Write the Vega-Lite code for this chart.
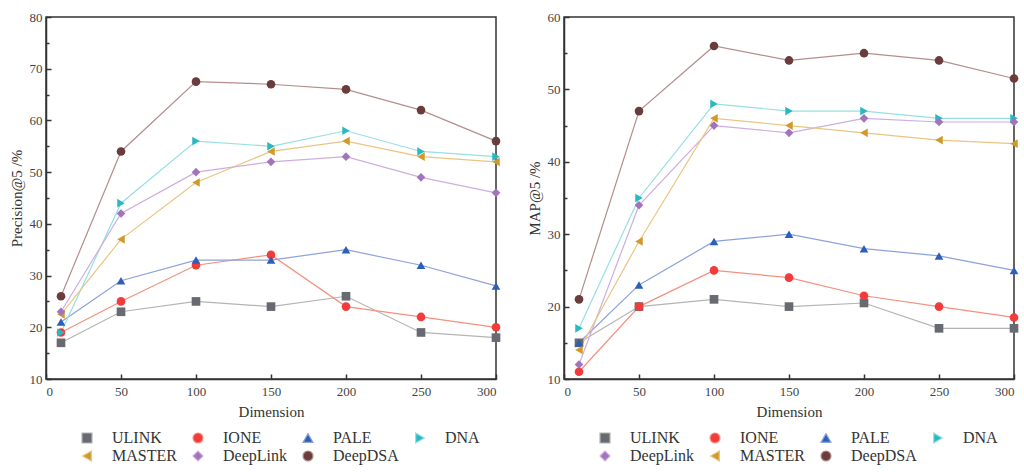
{
  "$schema": "https://vega.github.io/schema/vega-lite/v6.json",
  "padding": {"left": 8, "top": 10, "right": 4, "bottom": 0},
  "background": "white",
  "datasets": {
    "p5": [
      {"m": "ULINK", "d": 10, "v": 17}, {"m": "ULINK", "d": 50, "v": 23}, {"m": "ULINK", "d": 100, "v": 25}, {"m": "ULINK", "d": 150, "v": 24}, {"m": "ULINK", "d": 200, "v": 26}, {"m": "ULINK", "d": 250, "v": 19}, {"m": "ULINK", "d": 300, "v": 18},
      {"m": "IONE", "d": 10, "v": 19}, {"m": "IONE", "d": 50, "v": 25}, {"m": "IONE", "d": 100, "v": 32}, {"m": "IONE", "d": 150, "v": 34}, {"m": "IONE", "d": 200, "v": 24}, {"m": "IONE", "d": 250, "v": 22}, {"m": "IONE", "d": 300, "v": 20},
      {"m": "PALE", "d": 10, "v": 21}, {"m": "PALE", "d": 50, "v": 29}, {"m": "PALE", "d": 100, "v": 33}, {"m": "PALE", "d": 150, "v": 33}, {"m": "PALE", "d": 200, "v": 35}, {"m": "PALE", "d": 250, "v": 32}, {"m": "PALE", "d": 300, "v": 28},
      {"m": "DNA", "d": 10, "v": 19}, {"m": "DNA", "d": 50, "v": 44}, {"m": "DNA", "d": 100, "v": 56}, {"m": "DNA", "d": 150, "v": 55}, {"m": "DNA", "d": 200, "v": 58}, {"m": "DNA", "d": 250, "v": 54}, {"m": "DNA", "d": 300, "v": 53},
      {"m": "MASTER", "d": 10, "v": 22.5}, {"m": "MASTER", "d": 50, "v": 37}, {"m": "MASTER", "d": 100, "v": 48}, {"m": "MASTER", "d": 150, "v": 54}, {"m": "MASTER", "d": 200, "v": 56}, {"m": "MASTER", "d": 250, "v": 53}, {"m": "MASTER", "d": 300, "v": 52},
      {"m": "DeepLink", "d": 10, "v": 23}, {"m": "DeepLink", "d": 50, "v": 42}, {"m": "DeepLink", "d": 100, "v": 50}, {"m": "DeepLink", "d": 150, "v": 52}, {"m": "DeepLink", "d": 200, "v": 53}, {"m": "DeepLink", "d": 250, "v": 49}, {"m": "DeepLink", "d": 300, "v": 46},
      {"m": "DeepDSA", "d": 10, "v": 26}, {"m": "DeepDSA", "d": 50, "v": 54}, {"m": "DeepDSA", "d": 100, "v": 67.5}, {"m": "DeepDSA", "d": 150, "v": 67}, {"m": "DeepDSA", "d": 200, "v": 66}, {"m": "DeepDSA", "d": 250, "v": 62}, {"m": "DeepDSA", "d": 300, "v": 56}
    ],
    "map5": [
      {"m": "ULINK", "d": 10, "v": 15}, {"m": "ULINK", "d": 50, "v": 20}, {"m": "ULINK", "d": 100, "v": 21}, {"m": "ULINK", "d": 150, "v": 20}, {"m": "ULINK", "d": 200, "v": 20.5}, {"m": "ULINK", "d": 250, "v": 17}, {"m": "ULINK", "d": 300, "v": 17},
      {"m": "IONE", "d": 10, "v": 11}, {"m": "IONE", "d": 50, "v": 20}, {"m": "IONE", "d": 100, "v": 25}, {"m": "IONE", "d": 150, "v": 24}, {"m": "IONE", "d": 200, "v": 21.5}, {"m": "IONE", "d": 250, "v": 20}, {"m": "IONE", "d": 300, "v": 18.5},
      {"m": "PALE", "d": 10, "v": 15}, {"m": "PALE", "d": 50, "v": 23}, {"m": "PALE", "d": 100, "v": 29}, {"m": "PALE", "d": 150, "v": 30}, {"m": "PALE", "d": 200, "v": 28}, {"m": "PALE", "d": 250, "v": 27}, {"m": "PALE", "d": 300, "v": 25},
      {"m": "DNA", "d": 10, "v": 17}, {"m": "DNA", "d": 50, "v": 35}, {"m": "DNA", "d": 100, "v": 48}, {"m": "DNA", "d": 150, "v": 47}, {"m": "DNA", "d": 200, "v": 47}, {"m": "DNA", "d": 250, "v": 46}, {"m": "DNA", "d": 300, "v": 46},
      {"m": "DeepLink", "d": 10, "v": 12}, {"m": "DeepLink", "d": 50, "v": 34}, {"m": "DeepLink", "d": 100, "v": 45}, {"m": "DeepLink", "d": 150, "v": 44}, {"m": "DeepLink", "d": 200, "v": 46}, {"m": "DeepLink", "d": 250, "v": 45.5}, {"m": "DeepLink", "d": 300, "v": 45.5},
      {"m": "MASTER", "d": 10, "v": 14}, {"m": "MASTER", "d": 50, "v": 29}, {"m": "MASTER", "d": 100, "v": 46}, {"m": "MASTER", "d": 150, "v": 45}, {"m": "MASTER", "d": 200, "v": 44}, {"m": "MASTER", "d": 250, "v": 43}, {"m": "MASTER", "d": 300, "v": 42.5},
      {"m": "DeepDSA", "d": 10, "v": 21}, {"m": "DeepDSA", "d": 50, "v": 47}, {"m": "DeepDSA", "d": 100, "v": 56}, {"m": "DeepDSA", "d": 150, "v": 54}, {"m": "DeepDSA", "d": 200, "v": 55}, {"m": "DeepDSA", "d": 250, "v": 54}, {"m": "DeepDSA", "d": 300, "v": 51.5}
    ]
  },
  "config": {
    "font": "Liberation Serif",
    "view": {"stroke": "#333333", "strokeWidth": 1.5},
    "axis": {
      "grid": false,
      "domainColor": "#333333",
      "domainWidth": 1.5,
      "tickColor": "#333333",
      "tickWidth": 1.5,
      "labelFont": "Liberation Serif",
      "labelFontSize": 13,
      "labelColor": "#444444",
      "titleFont": "Liberation Serif",
      "titleFontSize": 15,
      "titleFontWeight": "normal",
      "titleColor": "#333333"
    },
    "legend": {
      "orient": "none",
      "legendX": 33,
      "legendY": 413,
      "direction": "horizontal",
      "columns": 4,
      "padding": 0,
      "symbolSize": 100,
      "symbolStrokeWidth": 1.2,
      "labelFont": "Liberation Serif",
      "labelFontSize": 16,
      "labelColor": "#333333",
      "labelOffset": 17,
      "columnPadding": 13,
      "rowPadding": 2,
      "labelLimit": 200
    }
  },
  "spacing": 24,
  "resolve": {
    "scale": {"fill": "independent", "stroke": "independent", "shape": "independent", "y": "independent"},
    "legend": {"fill": "independent", "stroke": "independent", "shape": "independent"}
  },
  "hconcat": [
    {
      "width": 450,
      "height": 362,
      "data": {"name": "p5"},
      "encoding": {
        "x": {"field": "d", "type": "quantitative", "scale": {"domain": [0, 300]},
          "axis": {"title": "Dimension", "values": [0, 50, 100, 150, 200, 250, 300], "tickSize": -5, "labelPadding": 11, "titlePadding": 6}},
        "y": {"field": "v", "type": "quantitative", "scale": {"domain": [10, 80]},
          "axis": {"title": "Precision@5 /%", "values": [10, 15, 20, 25, 30, 35, 40, 45, 50, 55, 60, 65, 70, 75, 80],
            "labelExpr": "datum.value % 10 === 0 ? datum.label : ''",
            "tickSize": {"condition": {"test": "datum.value % 10 === 0", "value": -5}, "value": -3},
            "labelPadding": 9, "titlePadding": 5}}
      },
      "layer": [
        {
          "mark": {"type": "line", "strokeWidth": 1.2},
          "encoding": {
            "detail": {"field": "m"},
            "stroke": {"field": "m", "type": "nominal", "title": null,
              "scale": {"domain": ["ULINK", "IONE", "PALE", "DNA", "MASTER", "DeepLink", "DeepDSA"],
                "range": ["#b4b4b4", "#f5907e", "#8ea2dc", "#96dfe3", "#ecc482", "#cdaee0", "#b48e8c"]}}
          }
        },
        {
          "mark": {"type": "point", "filled": true, "opacity": 1, "size": 75},
          "encoding": {
            "fill": {"field": "m", "type": "nominal", "title": null,
              "scale": {"domain": ["ULINK", "IONE", "PALE", "DNA", "MASTER", "DeepLink", "DeepDSA"],
                "range": ["#676a70", "#f23c3c", "#2c5fb9", "#2ab9c2", "#d09a2a", "#a274bb", "#6b3c3c"]}},
            "shape": {"field": "m", "type": "nominal", "title": null,
              "scale": {"domain": ["ULINK", "IONE", "PALE", "DNA", "MASTER", "DeepLink", "DeepDSA"],
                "range": ["square", "circle", "triangle-up", "triangle-right", "triangle-left", "diamond", "circle"]}}
          }
        }
      ]
    },
    {
      "width": 450,
      "height": 362,
      "data": {"name": "map5"},
      "encoding": {
        "x": {"field": "d", "type": "quantitative", "scale": {"domain": [0, 300]},
          "axis": {"title": "Dimension", "values": [0, 50, 100, 150, 200, 250, 300], "tickSize": -5, "labelPadding": 11, "titlePadding": 6}},
        "y": {"field": "v", "type": "quantitative", "scale": {"domain": [10, 60]},
          "axis": {"title": "MAP@5 /%", "values": [10, 15, 20, 25, 30, 35, 40, 45, 50, 55, 60],
            "labelExpr": "datum.value % 10 === 0 ? datum.label : ''",
            "tickSize": {"condition": {"test": "datum.value % 10 === 0", "value": -5}, "value": -3},
            "labelPadding": 9, "titlePadding": 5}}
      },
      "layer": [
        {
          "mark": {"type": "line", "strokeWidth": 1.2},
          "encoding": {
            "detail": {"field": "m"},
            "stroke": {"field": "m", "type": "nominal", "title": null,
              "scale": {"domain": ["ULINK", "IONE", "PALE", "DNA", "DeepLink", "MASTER", "DeepDSA"],
                "range": ["#b4b4b4", "#f5907e", "#8ea2dc", "#96dfe3", "#cdaee0", "#ecc482", "#b48e8c"]}}
          }
        },
        {
          "mark": {"type": "point", "filled": true, "opacity": 1, "size": 75},
          "encoding": {
            "fill": {"field": "m", "type": "nominal", "title": null,
              "scale": {"domain": ["ULINK", "IONE", "PALE", "DNA", "DeepLink", "MASTER", "DeepDSA"],
                "range": ["#676a70", "#f23c3c", "#2c5fb9", "#2ab9c2", "#a274bb", "#d09a2a", "#6b3c3c"]}},
            "shape": {"field": "m", "type": "nominal", "title": null,
              "scale": {"domain": ["ULINK", "IONE", "PALE", "DNA", "DeepLink", "MASTER", "DeepDSA"],
                "range": ["square", "circle", "triangle-up", "triangle-right", "diamond", "triangle-left", "circle"]}}
          }
        }
      ]
    }
  ]
}
